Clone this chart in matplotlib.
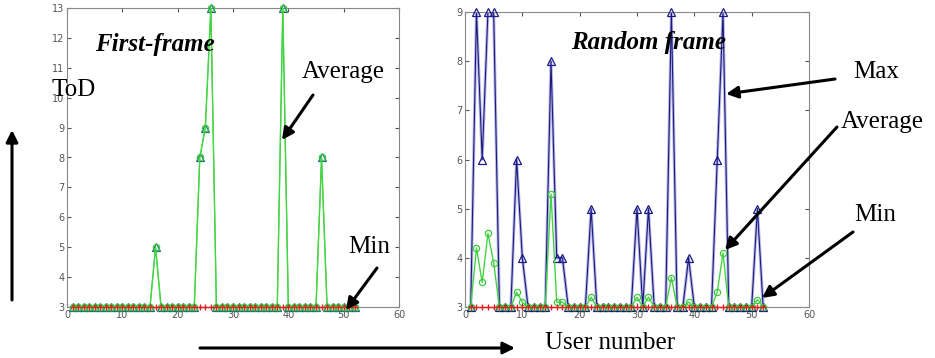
import numpy as np
import matplotlib
matplotlib.use("Agg")
import matplotlib.pyplot as plt

# users 1..52
users = np.arange(1, 53)

# first frame: max and average coincide
first_peaks = {16: 5, 24: 8, 25: 9, 26: 13, 39: 13, 46: 8}
first_max = [first_peaks.get(u, 3) for u in users]
first_avg = list(first_max)
first_min = [3] * len(users)

# random frame
rand_max_peaks = {2: 9, 3: 6, 4: 9, 5: 9, 9: 6, 10: 4, 15: 8, 16: 4, 17: 4,
                  22: 5, 30: 5, 32: 5, 36: 9, 39: 4, 44: 6, 45: 9, 51: 5}
rand_avg_peaks = {2: 4.2, 3: 3.5, 4: 4.5, 5: 3.9, 9: 3.3, 10: 3.1, 15: 5.3,
                  16: 3.1, 17: 3.1, 22: 3.2, 30: 3.2, 32: 3.2, 36: 3.6,
                  39: 3.1, 44: 3.3, 45: 4.1, 51: 3.15}
rand_max = [rand_max_peaks.get(u, 3) for u in users]
rand_avg = [rand_avg_peaks.get(u, 3) for u in users]
rand_min = [3] * len(users)

W, H = 935, 358
fig = plt.figure(figsize=(W / 100, H / 100), dpi=100)
serif = "Liberation Serif"


def box(l, t, r, b):
    return [l / W, 1 - b / H, (r - l) / W, (b - t) / H]


def panel(rect, ymax, mx, av, mn, tri_col, line_col, halo):
    ax = fig.add_axes(rect)
    if halo:
        ax.plot(users, mx, color="#b8b8e8", lw=2.2, zorder=1)
    ax.plot(users, mx, color=line_col, lw=0.8, zorder=2)
    ax.plot(users, mx, ls="none", marker="^", ms=5.5, mfc="none", mec=tri_col,
            mew=0.9, zorder=3, clip_on=False)
    ax.plot(users, av, color="#44d444", lw=1.0, marker="o", ms=4.5, mfc="none",
            mec="#3ccc3c", mew=0.9, zorder=4, clip_on=False)
    ax.plot(users, mn, color="#e02020", lw=0.8, marker="+", ms=5, mew=1.0,
            zorder=5, clip_on=False)
    ax.set_xlim(0, 60)
    ax.set_ylim(3, ymax)
    ax.set_xticks(range(0, 61, 10))
    ax.set_yticks(range(3, ymax + 1))
    ax.tick_params(direction="in", length=3, labelsize=7, colors="#555555",
                   top=True, right=True, pad=2)
    for s in ax.spines.values():
        s.set_color("#888888")
        s.set_linewidth(0.8)
    return ax


ax1 = panel(box(67, 8, 399, 307), 13, first_max, first_avg, first_min,
            "#1f6f7f", "#44d444", False)
ax2 = panel(box(465, 12, 809, 307), 9, rand_max, rand_avg, rand_min,
            "#1a1a8a", "#1a1a7a", True)

txt = dict(fontfamily=serif, fontsize=18, color="black")
fig.text(155 / W, 1 - 45 / H, "First-frame", ha="center", va="center",
         fontweight="bold", fontstyle="italic", **txt)
fig.text(649 / W, 1 - 43 / H, "Random frame", ha="center", va="center",
         fontweight="bold", fontstyle="italic", **txt)
fig.text(74 / W, 1 - 90 / H, "ToD", ha="center", va="center", **txt)
fig.text(343 / W, 1 - 72 / H, "Average", ha="center", va="center", **txt)
fig.text(369 / W, 1 - 247 / H, "Min", ha="center", va="center", **txt)
fig.text(876 / W, 1 - 72 / H, "Max", ha="center", va="center", **txt)
fig.text(882 / W, 1 - 122 / H, "Average", ha="center", va="center", **txt)
fig.text(875 / W, 1 - 215 / H, "Min", ha="center", va="center", **txt)
fig.text(610 / W, 1 - 343 / H, "User number", ha="center", va="center", **txt)


def arrow(x0, y0, x1, y1):
    fig.patches.append(matplotlib.patches.FancyArrowPatch(
        (x0 / W, 1 - y0 / H), (x1 / W, 1 - y1 / H), transform=fig.transFigure,
        arrowstyle="-|>,head_length=7,head_width=3.5", lw=2.2, color="black",
        shrinkA=0, shrinkB=0, zorder=10))


arrow(313, 95, 282, 140)
arrow(377, 268, 346, 310)
arrow(835, 79, 726, 94)
arrow(837, 127, 725, 250)
arrow(853, 232, 762, 298)
arrow(12, 300, 12, 130)
arrow(200, 348, 515, 348)

fig.savefig("out.png", dpi=100)
